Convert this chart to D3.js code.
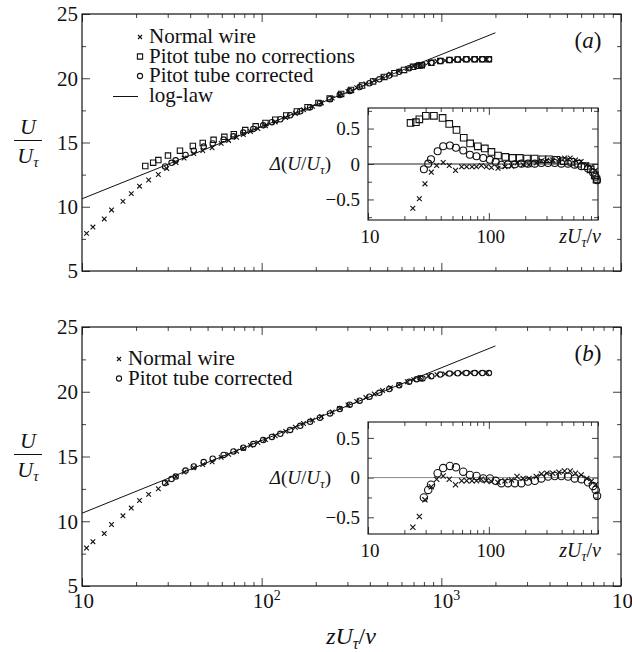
<!DOCTYPE html>
<html>
<head>
<meta charset="utf-8">
<script src="https://cdn.jsdelivr.net/npm/d3@7"></script>
<style>
  body { margin: 0; background: #fff; }
  svg text { font-family: "Liberation Serif", "DejaVu Serif", serif; fill: #111; }
</style>
</head>
<body>
<svg id="chart" width="632" height="652" font-family="Liberation Serif, DejaVu Serif, serif"></svg>
<script>
// ---- data ----
// normal hot wire, zU/v and U/U
const wireZ = [10.6, 11.5, 13.3, 14.6, 16.9, 18.8, 20.9, 23.5, 26.6, 29.6, 33.4, 37, 41.9, 47, 53, 59.5,
  65.5, 72.5, 79, 86.6, 95.3, 105, 119, 136, 154, 171, 192, 215, 247, 272, 302, 338, 380, 423, 471, 521,
  580, 646, 702, 762, 848, 945, 1050, 1170, 1300, 1450, 1610, 1790];
const wireU = [7.93, 8.42, 9.05, 9.75, 10.42, 11.02, 11.6, 12.08, 12.51, 12.98, 13.44, 13.79, 14.13, 14.37,
  14.59, 14.93, 15.16, 15.41, 15.62, 15.86, 16.08, 16.30, 16.60, 16.94, 17.26, 17.55, 17.81, 18.09, 18.45,
  18.72, 18.98, 19.26, 19.56, 19.83, 20.10, 20.31, 20.55, 20.77, 20.94, 21.10, 21.22, 21.32, 21.38, 21.42,
  21.45, 21.47, 21.48, 21.48];
// deviation from log-law, inset (same wire in both panels)
const wireInsetZ = [23.5, 26.6, 29.6, 33.4, 37, 41.9, 47, 53, 59.5, 65.5, 72.5, 79, 86.6, 95.3, 105, 119,
  136, 154, 171, 192, 215, 247, 272, 302, 338, 380, 423, 471, 521, 580, 646, 702, 762];
const wireDev = [-0.625, -0.49, -0.28, -0.115, -0.02, 0.02, -0.02, -0.09, -0.04, -0.04, -0.04, -0.04, -0.02,
  -0.04, -0.05, -0.06, -0.04, -0.03, 0.013, -0.01, -0.01, 0.013, 0.047, 0.055, 0.055, 0.068, 0.084, 0.084,
  0.055, 0.034, -0.01, -0.05, -0.09];

// pitot tube, no corrections (panel a)
const sqZ = [22.5, 24.9, 26.6, 30.1, 35.1, 41.4, 47, 54, 62, 70, 81, 92.6, 105, 119, 137, 157, 180, 207, 239,
  277, 314, 362, 417, 482, 548, 620, 696, 752, 778, 880, 986, 1110, 1234, 1378, 1533, 1692, 1840];
const sqU = [13.17, 13.43, 13.63, 13.98, 14.36, 14.73, 14.96, 15.21, 15.44, 15.65, 15.97, 16.26, 16.52, 16.78,
  17.10, 17.42, 17.75, 18.08, 18.43, 18.78, 19.09, 19.43, 19.75, 20.10, 20.39, 20.65, 20.89, 20.99, 21.02,
  21.2, 21.34, 21.42, 21.46, 21.48, 21.48, 21.48, 21.48];
const sqDev = [0.58, 0.59, 0.63, 0.68, 0.68, 0.65, 0.565, 0.48, 0.37, 0.29, 0.25, 0.22, 0.17, 0.12, 0.10,
  0.085, 0.085, 0.076, 0.076, 0.066, 0.066, 0.06, 0.04, 0.03, 0.005, -0.03, -0.075, -0.16, -0.22];

// pitot tube corrected (a and b use different corrections)
const circZ = [29, 31.5, 33.2, 37.7, 41.9, 47.6, 53.4, 61.4, 69.7, 79, 89.8, 102, 114, 127, 144, 164, 186,
  211, 240, 272, 309, 351, 398, 452, 513, 583, 662, 728, 766, 786, 880, 986, 1110, 1234, 1378, 1533, 1692, 1840];
const circUa = [13.14, 13.42, 13.61, 14.03, 14.36, 14.68, 14.93, 15.23, 15.48, 15.77, 16.06, 16.34, 16.58,
  16.81, 17.12, 17.43, 17.75, 18.06, 18.37, 18.69, 19.00, 19.31, 19.61, 19.92, 20.21, 20.50, 20.78, 20.95,
  21.02, 21.03, 21.2, 21.34, 21.42, 21.46, 21.47, 21.47, 21.47, 21.47];
const circUb = [12.96, 13.26, 13.45, 13.91, 14.23, 14.57, 14.83, 15.12, 15.39, 15.68, 15.96, 16.27, 16.51,
  16.75, 17.05, 17.37, 17.68, 18.00, 18.33, 18.66, 19.00, 19.31, 19.62, 19.92, 20.21, 20.51, 20.78, 20.97,
  21.04, 21.03, 21.2, 21.33, 21.40, 21.43, 21.44, 21.44, 21.44, 21.44];
const circDevA = [-0.075, 0.005, 0.066, 0.18, 0.25, 0.26, 0.23, 0.19, 0.13, 0.11, 0.085, 0.06, 0.03, -0.01,
  -0.005, -0.005, 0.005, 0.005, 0.005, 0.015, 0.015, 0.015, 0.005, 0.005, -0.01, -0.03, -0.065, -0.12, -0.18, -0.23];
const circDevB = [-0.25, -0.155, -0.09, 0.055, 0.12, 0.147, 0.13, 0.075, 0.034, 0.02, -0.01, -0.01, -0.04,
  -0.07, -0.07, -0.07, -0.07, -0.05, -0.04, -0.01, 0.013, 0.02, 0.02, 0.013, -0.01, -0.02, -0.06, -0.105, -0.155, -0.23];

// log-law, straight on semi-log axes
const lawZ = [10, 2000];
const lawU = [10.62, 23.54];

// ticks and labels
const mainYTicks = [5, 10, 15, 20, 25];
const mainYMinor = [7.5, 12.5, 17.5, 22.5];
const mainXTicks = [10, 100, 1000, 10000];
const mainXExp = ["", "2", "3", "4"];
const insetXTicks = [10, 100];
const insetYTicks = [-0.5, 0, 0.5];
const insetYLabels = ["\u22120.5", "0", "0.5"];
const insetYMinor = [-0.75, -0.25, 0.25, 0.75];
const legendA = ["Normal wire", "Pitot tube no corrections", "Pitot tube corrected", "log-law"];
const legendB = ["Normal wire", "Pitot tube corrected"];

const SERIF = "Liberation Serif, DejaVu Serif, serif";
const svg = d3.select("#chart");
const INK = "#111";

function tickSet(g, axis, scale, values, size, tf) {
  g.append("g").attr("transform", tf)
    .call(axis(scale).tickValues(values).tickSize(-size).tickFormat(() => ""))
    .call(s => s.select(".domain").remove())
    .call(s => s.selectAll("text").remove())
    .call(s => s.selectAll("line").attr("stroke", INK).attr("stroke-width", 0.8));
}

function addMarks(g, kind, xs, ys, sx, sy, s) {
  const pts = d3.range(ys.length).map(i => [sx(xs[i]), sy(ys[i])]);
  const grp = g.append("g").attr("fill", "none").attr("stroke", INK).attr("stroke-width", 1.1);
  if (kind === "circle") {
    grp.selectAll("circle").data(pts).join("circle")
      .attr("cx", d => d[0]).attr("cy", d => d[1]).attr("r", s);
  } else {
    grp.selectAll("path").data(pts).join("path")
      .attr("d", d => kind === "cross"
        ? `M${d[0]-s},${d[1]-s}L${d[0]+s},${d[1]+s}M${d[0]-s},${d[1]+s}L${d[0]+s},${d[1]-s}`
        : `M${d[0]-s},${d[1]-s}h${2*s}v${2*s}h${-2*s}Z`);
  }
}

function isDecade(v) {
  const l = Math.log10(v);
  return Math.abs(l - Math.round(l)) < 1e-9;
}

function txt(g, x, y, size) {
  return g.append("text").attr("x", x).attr("y", y)
    .attr("font-family", SERIF).style("font-size", size + "px");
}

// U / U_tau fraction label
function yLabel(g, lineY) {
  txt(g, 28, lineY - 7, 22).attr("text-anchor", "middle").style("font-style", "italic").text("U");
  g.append("line").attr("x1", 14).attr("x2", 42).attr("y1", lineY).attr("y2", lineY)
    .attr("stroke", INK).attr("stroke-width", 1);
  const t = txt(g, 28, lineY + 22, 22).attr("text-anchor", "middle").style("font-style", "italic");
  t.append("tspan").text("U");
  t.append("tspan").attr("dy", 4).style("font-size", "15px").text("τ");
}

function drawMain(top, bottom, opts) {
  const x = d3.scaleLog().domain([10, 1e4]).range([82, 621]);
  const y = d3.scaleLinear().domain([5, 25]).range([bottom, top]);
  const g = svg.append("g");

  const xt = x.ticks();
  const xMaj = xt.filter(isDecade), xMin = xt.filter(v => !isDecade(v));
  tickSet(g, d3.axisBottom, x, xMaj, 8, `translate(0,${bottom})`);
  tickSet(g, d3.axisBottom, x, xMin, 4, `translate(0,${bottom})`);
  tickSet(g, d3.axisTop, x, xMaj, 8, `translate(0,${top})`);
  tickSet(g, d3.axisTop, x, xMin, 4, `translate(0,${top})`);
  tickSet(g, d3.axisLeft, y, mainYTicks, 8, `translate(82,0)`);
  tickSet(g, d3.axisLeft, y, mainYMinor, 4, `translate(82,0)`);
  tickSet(g, d3.axisRight, y, mainYTicks, 8, `translate(621,0)`);
  tickSet(g, d3.axisRight, y, mainYMinor, 4, `translate(621,0)`);

  g.append("rect").attr("x", 82).attr("y", top).attr("width", 621 - 82).attr("height", bottom - top)
    .attr("fill", "none").attr("stroke", INK).attr("stroke-width", 1.2);

  mainYTicks.forEach(v => {
    txt(g, 78, y(v), 21).attr("dy", "0.35em").attr("text-anchor", "end").text(v);
  });

  if (opts.xLabels) {
    mainXTicks.forEach((v, i) => {
      const t = txt(g, x(v) - 9, bottom + 22, 21);
      t.append("tspan").text("10");
      if (mainXExp[i]) t.append("tspan").attr("dy", -8).style("font-size", "14px").text(mainXExp[i]);
    });
    const t = txt(g, 351, 644, 24).attr("text-anchor", "middle").style("font-style", "italic");
    t.append("tspan").text("zU");
    t.append("tspan").attr("dy", 5).style("font-size", "16px").text("τ");
    t.append("tspan").attr("dy", -5).style("font-style", "normal").text("/");
    t.append("tspan").text("ν");
  }

  yLabel(g, (top + bottom) / 2 - 2);

  // panel letter
  const pl = txt(g, 588, top + 34, 23).attr("text-anchor", "middle");
  pl.append("tspan").text("(");
  pl.append("tspan").style("font-style", "italic").text(opts.letter);
  pl.append("tspan").text(")");

  // log-law
  g.append("path").datum(d3.range(lawZ.length))
    .attr("d", d3.line().x(i => x(lawZ[i])).y(i => y(lawU[i])))
    .attr("fill", "none").attr("stroke", INK).attr("stroke-width", 1);

  opts.series.forEach(s => addMarks(g, s.kind, s.z, s.u, x, y, s.size));

  // legend
  opts.legend.forEach((lab, i) => {
    const by = top + opts.legBase + i * 19.5;
    const kind = opts.legKinds[i];
    if (kind === "line") {
      g.append("line").attr("x1", opts.legX - 36).attr("x2", opts.legX - 11)
        .attr("y1", by - 5).attr("y2", by - 5).attr("stroke", INK).attr("stroke-width", 1);
    } else {
      const s = kind === "cross" ? 2 : 2.6;
      addMarks(g, kind, [0], [0], () => opts.legX - 9, () => by - 6, s);
    }
    txt(g, opts.legX, by, 21).text(lab);
  });
}

function drawInset(box, yDom, zeroColor, series) {
  const x = d3.scaleLog().domain([10, 800]).range([box.l, box.r]);
  const y = d3.scaleLinear().domain(yDom).range([box.b, box.t]);
  const g = svg.append("g");
  g.append("rect").attr("x", box.l).attr("y", box.t).attr("width", box.r - box.l)
    .attr("height", box.b - box.t).attr("fill", "#fff");

  const xt = x.ticks();
  const xMaj = xt.filter(isDecade), xMin = xt.filter(v => !isDecade(v));
  const yMin = insetYMinor.filter(v => v > yDom[0] && v < yDom[1]);
  tickSet(g, d3.axisBottom, x, xMaj, 7, `translate(0,${box.b})`);
  tickSet(g, d3.axisBottom, x, xMin, 4, `translate(0,${box.b})`);
  tickSet(g, d3.axisTop, x, xMaj, 7, `translate(0,${box.t})`);
  tickSet(g, d3.axisTop, x, xMin, 4, `translate(0,${box.t})`);
  tickSet(g, d3.axisLeft, y, insetYTicks, 6, `translate(${box.l},0)`);
  tickSet(g, d3.axisLeft, y, yMin, 4, `translate(${box.l},0)`);
  tickSet(g, d3.axisRight, y, insetYTicks, 6, `translate(${box.r},0)`);
  tickSet(g, d3.axisRight, y, yMin, 4, `translate(${box.r},0)`);

  g.append("line").attr("x1", box.l).attr("x2", box.r).attr("y1", y(0)).attr("y2", y(0))
    .attr("stroke", zeroColor).attr("stroke-width", 1);
  g.append("rect").attr("x", box.l).attr("y", box.t).attr("width", box.r - box.l)
    .attr("height", box.b - box.t).attr("fill", "none").attr("stroke", INK).attr("stroke-width", 1.1);

  insetYTicks.forEach((v, i) => {
    txt(g, box.l - 8, y(v), 19).attr("dy", "0.35em").attr("text-anchor", "end").text(insetYLabels[i]);
  });
  insetXTicks.forEach(v => {
    txt(g, x(v) + 2, box.b + 23, 19).attr("text-anchor", "middle").text(v);
  });

  const xl = txt(g, box.r + 3, box.b + 23, 20).attr("text-anchor", "end").style("font-style", "italic");
  xl.append("tspan").text("zU");
  xl.append("tspan").attr("dy", 4).style("font-size", "14px").text("τ");
  xl.append("tspan").attr("dy", -4).style("font-style", "normal").text("/");
  xl.append("tspan").text("ν");

  const dl = txt(g, 331, y(0) + 6, 19).attr("text-anchor", "end");
  dl.append("tspan").style("font-style", "italic").text("Δ");
  dl.append("tspan").text("(");
  dl.append("tspan").style("font-style", "italic").text("U");
  dl.append("tspan").text("/");
  dl.append("tspan").style("font-style", "italic").text("U");
  dl.append("tspan").attr("dy", 4).style("font-size", "13px").style("font-style", "italic").text("τ");
  dl.append("tspan").attr("dy", -4).text(")");

  series.forEach(s => addMarks(g, s.kind, s.z, s.dev, x, y, s.size));
}

// panel (a)
drawMain(14, 271, {
  letter: "a", xLabels: false, legX: 149, legBase: 29, legend: legendA,
  legKinds: ["cross", "square", "circle", "line"],
  series: [
    { kind: "square", z: sqZ, u: sqU, size: 2.7 },
    { kind: "circle", z: circZ, u: circUa, size: 2.7 },
    { kind: "cross", z: wireZ, u: wireU, size: 2.3 }
  ]
});
drawInset({ l: 368, r: 598, t: 108, b: 220 }, [-0.79, 0.79], "#222", [
  { kind: "square", z: sqZ, dev: sqDev, size: 3.3 },
  { kind: "circle", z: circZ, dev: circDevA, size: 3.5 },
  { kind: "cross", z: wireInsetZ, dev: wireDev, size: 2.4 }
]);

// panel (b)
drawMain(327, 586, {
  letter: "b", xLabels: true, legX: 128, legBase: 38, legend: legendB,
  legKinds: ["cross", "circle"],
  series: [
    { kind: "circle", z: circZ, u: circUb, size: 2.7 },
    { kind: "cross", z: wireZ, u: wireU, size: 2.3 }
  ]
});
drawInset({ l: 368, r: 598, t: 422, b: 534 }, [-0.71, 0.70], "#888", [
  { kind: "circle", z: circZ, dev: circDevB, size: 3.7 },
  { kind: "cross", z: wireInsetZ, dev: wireDev, size: 2.6 }
]);
</script>
</body>
</html>
